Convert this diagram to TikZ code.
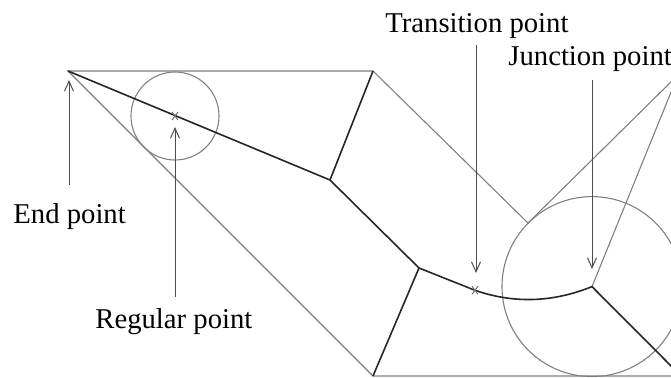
\documentclass[tikz,border=0pt]{standalone}
\usepackage{fontspec}
\setmainfont{Liberation Serif}
\usetikzlibrary{arrows.meta,calc}
\begin{document}
\begin{tikzpicture}[x=0.5pt,y=-0.5pt,
  outline/.style={draw=black!50,line width=0.55pt},
  axisline/.style={draw=black!85,line width=0.8pt,line join=round},
  pointer/.style={draw=black!70,line width=0.5pt,-{Straight Barb[length=5pt,width=4.5pt]}},
  lbl/.style={inner sep=0pt,anchor=base west,font=\fontsize{14.35}{17}\selectfont},
  xmark/.style={draw=black!55,line width=0.5pt}]
\useasboundingbox (0,0) rectangle (671,377);
\clip (0,0) rectangle (671,377);
% polygon vertices
\coordinate (E) at (68,71);
\coordinate (A) at (373,71);
\coordinate (R) at (528,223);
\coordinate (V) at (678,75);
\coordinate (B) at (373,376);
\coordinate (BR) at (700,376);
% medial axis points
\coordinate (M1) at (330,180);
\coordinate (M2) at (419,268);
\coordinate (T) at (475,290.3);
\coordinate (J) at (592,286.6);
\coordinate (K) at (700,395);
\coordinate (P) at (175,116);
% outline
\draw[outline] (BR) -- (B) -- (E) -- (A) -- (R) -- (V) -- (J);
% circles
\draw[outline] (P) circle (44);
\draw[outline] (J) circle (90);
% medial axis
\draw[axisline] (E) -- (M1) -- (A);
\draw[axisline] (M1) -- (M2) -- (B);
\draw[axisline] (M2) -- (T) .. controls (514,303.8) and (553,302.4) .. (J) -- (K);
% x marks
\draw[xmark] ($(P)+(-3,-4)$) -- ($(P)+(3,4)$) ($(P)+(3,-4)$) -- ($(P)+(-3,4)$);
\draw[xmark] ($(T)+(-3,-4)$) -- ($(T)+(3,4)$) ($(T)+(3,-4)$) -- ($(T)+(-3,4)$);
% labels
\node[lbl] (lend) at (13,223) {End point};
\node[lbl] (lreg) at (95,328) {Regular point};
\node[lbl] (ltr) at (385,32) {Transition point};
\node[lbl] (ljn) at (508,65) {Junction point};
% pointer ends
\coordinate (s1) at (69,185); \coordinate (t1) at (69,80);
\coordinate (s2) at (175,297); \coordinate (t2) at (175,127);
\coordinate (s3) at (476,45); \coordinate (t3) at (476,273);
\coordinate (s4) at (592,80); \coordinate (t4) at (592,269);
\draw[pointer] (s1) -- (t1);
\draw[pointer] (s2) -- (t2);
\draw[pointer] (s3) -- (t3);
\draw[pointer] (s4) -- (t4);
\end{tikzpicture}
\end{document}
